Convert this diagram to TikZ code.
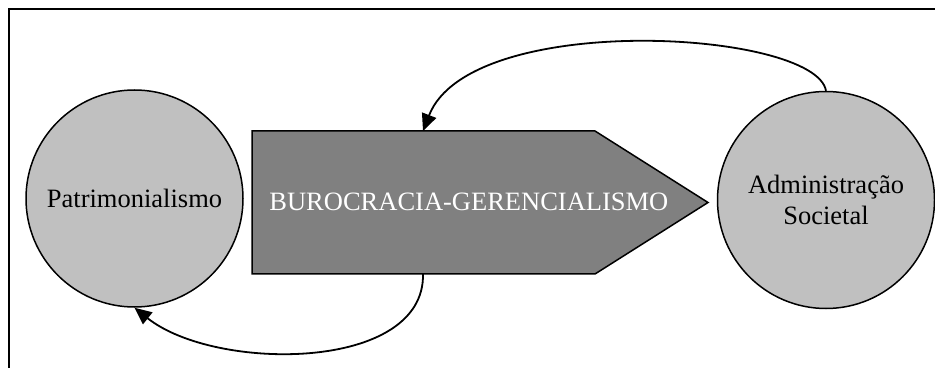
\documentclass[tikz,border=0pt]{standalone}
\usepackage{fontspec}
\setmainfont{Liberation Serif}
\usetikzlibrary{arrows.meta}
\definecolor{circfill}{HTML}{C0C0C0}
\definecolor{pentfill}{HTML}{808080}
\begin{document}
\begin{tikzpicture}[x=0.5pt,y=-0.5pt,
  circnode/.style={circle,draw=black,line width=0.75pt,fill=circfill,minimum size=108.5pt,inner sep=0pt,
    font=\fontsize{13.25}{15.5}\selectfont,align=center},
  link/.style={line width=0.9pt,-{Triangle[length=8.5pt,width=7.5pt]}}]
\useasboundingbox (0,0) rectangle (935,368);
\fill[white] (0,0) rectangle (935,368);
% frame (right and bottom edges fall outside the picture)
\draw[line width=1pt] (8.5,380) -- (8.5,9.5) -- (950,9.5);
% circles
\node[circnode] (pat) at (134.5,198.5) {Patrimonialismo};
\node[circnode] (adm) at (826,200) {Administração\\Societal};
% pentagon arrow
\draw[line width=0.75pt,fill=pentfill] (252,131) -- (595,131) -- (708,202.5) -- (595,274) -- (252,274) -- cycle;
\node[font=\fontsize{13.25}{15.5}\selectfont,text=white,anchor=west,inner sep=0pt] (bur) at (269,202) {BUROCRACIA-GERENCIALISMO};
\coordinate (pentTop) at (423,131);
\coordinate (pentBot) at (423,274);
% connectors
\draw[link] (adm.north) .. controls (815,30) and (470,10) .. (pentTop);
\draw[link] (pentBot) .. controls (425,372) and (215,372) .. (pat.south);
\end{tikzpicture}
\end{document}
